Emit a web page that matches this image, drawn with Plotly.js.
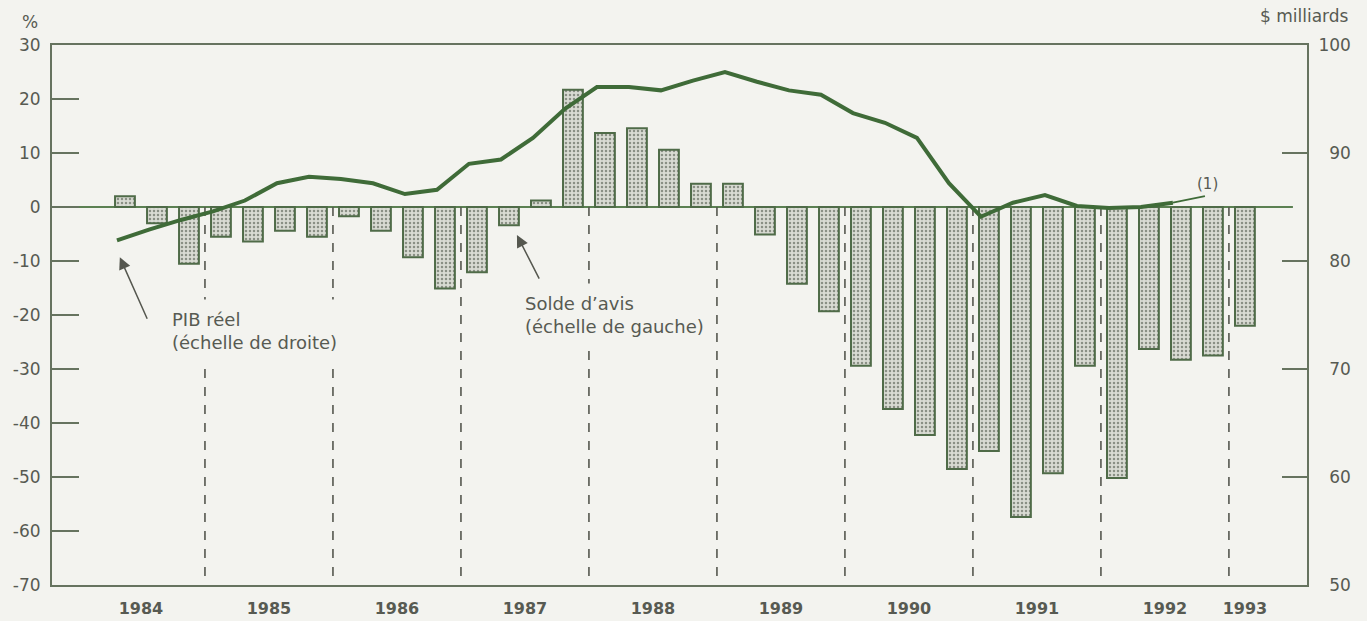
<!DOCTYPE html>
<html>
<head>
<meta charset="utf-8">
<script src="https://cdn.plot.ly/plotly-3.0.1.min.js"></script>
<style>
html,body{margin:0;padding:0;background:#f3f3ef;}
#chart{width:1367px;height:621px;}
</style>
</head>
<body>
<div id="chart"></div>
<script>
// ---- Data ----
const years = ['1984','1985','1986','1987','1988','1989','1990','1991','1992','1993'];

// Quarters from 1984 T2 to 1993 T1
const quarters = [
  '1984T2','1984T3','1984T4',
  '1985T1','1985T2','1985T3','1985T4',
  '1986T1','1986T2','1986T3','1986T4',
  '1987T1','1987T2','1987T3','1987T4',
  '1988T1','1988T2','1988T3','1988T4',
  '1989T1','1989T2','1989T3','1989T4',
  '1990T1','1990T2','1990T3','1990T4',
  '1991T1','1991T2','1991T3','1991T4',
  '1992T1','1992T2','1992T3','1992T4',
  '1993T1'
];

// Solde d'avis (%), left scale
const soldeAvis = [
  2.0, -3.0, -10.5,
  -5.5, -6.4, -4.4, -5.5,
  -1.7, -4.4, -9.3, -15.1,
  -12.1, -3.4, 1.2, 21.7,
  13.7, 14.6, 10.6, 4.3,
  4.3, -5.1, -14.2, -19.3,
  -29.4, -37.4, -42.2, -48.5,
  -45.2, -57.4, -49.3, -29.4,
  -50.2, -26.3, -28.3, -27.5,
  -22.0
];

// PIB réel ($ milliards), right scale, 1984T2 .. 1992T3
const pibReel = [
  81.9, 82.9, 83.8,
  84.6, 85.6, 87.2, 87.8,
  87.6, 87.2, 86.2, 86.6,
  89.0, 89.4, 91.4, 94.1,
  96.1, 96.1, 95.8, 96.7,
  97.5, 96.6, 95.8, 95.4,
  93.7, 92.8, 91.4, 87.2,
  84.1, 85.4, 86.1, 85.1,
  84.9, 85.0, 85.4
];
// Estimation (1): 1992T3 .. 1992T4
const pibEstimation = [85.4, 86.0];

const leftTicks = [-70, -60, -50, -40, -30, -20, -10, 0, 10, 20, 30];
const leftTickText = ['-70','-60','-50','-40','-30','-20','-10','0','10','20','30'];
const rightTicks = [50, 60, 70, 80, 90, 100];
const rightTickText = ['\u200750','\u200760','\u200770','\u200780','\u200790','100'];

// ---- Positions derived from the quarter list ----
const qx = quarters.map((q, i) => i + 1);           // bar centres (1984T1 = 0)
const lineX = pibReel.map((v, i) => qx[i] - 0.25);
const estX = [qx[pibReel.length - 1] - 0.25, qx[pibReel.length] - 0.25];
const lastQ = qx[qx.length - 1];
const yearPos = years.map((y, i) => Math.min(4 * i + 1.5, lastQ));
const boundaries = years.slice(1).map((y, i) => 4 * (i + 1) - 0.5);

const xRange = [-1.28, 37.94];
const frameCol = '#66735f';
const textCol = '#575a52';
const bg = '#f3f3ef';

const traces = [
  {
    type: 'bar', x: qx, y: soldeAvis, width: 0.62, yaxis: 'y',
    marker: {
      color: '#d9dbd3',
      pattern: {shape: '.', fgcolor: '#8a9085', bgcolor: '#d9dbd3', size: 4, solidity: 0.3},
      line: {color: '#4f6b48', width: 2}
    },
    hoverinfo: 'skip'
  },
  {
    type: 'scatter', mode: 'lines', x: lineX, y: pibReel, yaxis: 'y2',
    line: {color: '#3f6b38', width: 4}, hoverinfo: 'skip'
  },
  {
    type: 'scatter', mode: 'lines', x: estX, y: pibEstimation, yaxis: 'y2',
    line: {color: '#3f6b38', width: 1.8}, hoverinfo: 'skip'
  }
];

const shapes = [
  {type: 'line', xref: 'x', yref: 'y', x0: xRange[0], x1: 37.5, y0: 0, y1: 0,
   line: {color: '#5b8052', width: 2}, layer: 'below'}
].concat(boundaries.map(b => ({
  type: 'line', xref: 'x', yref: 'y', x0: b, x1: b, y0: 0, y1: -70,
  line: {color: '#55574f', width: 1.6, dash: 'dash'}, layer: 'below'
})));

const annotations = [
  {xref: 'x', yref: 'paper', x: 2.16, y: 0.470, xanchor: 'left', yanchor: 'middle', align: 'left',
   text: 'PIB réel<br>(échelle de droite)', showarrow: false, bgcolor: bg, borderpad: 9,
   font: {size: 18, color: textCol}},
  {xref: 'x', yref: 'paper', x: 13.19, y: 0.500, xanchor: 'left', yanchor: 'middle', align: 'left',
   text: 'Solde d\u2019avis<br>(échelle de gauche)', showarrow: false, bgcolor: bg, borderpad: 9,
   font: {size: 18, color: textCol}},
  {xref: 'x', yref: 'paper', x: 0.84, y: 0.607, text: '', showarrow: true,
   ax: 28, ay: 63, arrowhead: 2, arrowsize: 1.6, arrowwidth: 1.5, arrowcolor: '#55574f'},
  {xref: 'x', yref: 'paper', x: 13.25, y: 0.648, text: '', showarrow: true,
   ax: 23, ay: 45, arrowhead: 2, arrowsize: 1.6, arrowwidth: 1.5, arrowcolor: '#55574f'},
  {xref: 'x', yref: 'paper', x: 34.84, y: 0.743, xanchor: 'center', yanchor: 'middle',
   text: '(1)', showarrow: false, font: {size: 15, color: textCol}},
  {xref: 'paper', yref: 'paper', x: -0.0175, y: 1.043, xanchor: 'center', yanchor: 'middle',
   text: '%', showarrow: false, font: {size: 17, color: textCol}},
  {xref: 'paper', yref: 'paper', x: 0.998, y: 1.054, xanchor: 'center', yanchor: 'middle',
   text: '$ milliards', showarrow: false, font: {size: 17, color: textCol}}
];

const layout = {
  width: 1367, height: 621,
  margin: {l: 52, r: 60, t: 45, b: 36},
  paper_bgcolor: bg, plot_bgcolor: bg,
  font: {family: 'DejaVu Sans, Arial, sans-serif', color: textCol, size: 17},
  showlegend: false,
  xaxis: {
    range: xRange, tickmode: 'array', tickvals: yearPos, ticktext: years,
    ticks: '', showgrid: false, zeroline: false,
    showline: true, mirror: true, linecolor: frameCol, linewidth: 2,
    tickfont: {size: 16, weight: 'bold', color: textCol}, ticklabelstandoff: 8
  },
  yaxis: {
    range: [-70, 30], tickmode: 'array', tickvals: leftTicks, ticktext: leftTickText,
    ticks: 'inside', ticklen: 27, tickwidth: 2, tickcolor: frameCol,
    showgrid: false, zeroline: false, showline: true, linecolor: frameCol, linewidth: 2,
    tickfont: {size: 17, color: textCol}, ticklabelstandoff: 6
  },
  yaxis2: {
    overlaying: 'y', side: 'right', range: [50, 100],
    tickmode: 'array', tickvals: rightTicks, ticktext: rightTickText,
    ticks: 'inside', ticklen: 25, tickwidth: 2, tickcolor: frameCol,
    showgrid: false, zeroline: false, showline: true, linecolor: frameCol, linewidth: 2,
    tickfont: {size: 17, color: textCol}, ticklabelstandoff: 6
  },
  shapes: shapes,
  annotations: annotations
};

Plotly.newPlot('chart', traces, layout, {displayModeBar: false, staticPlot: true});
</script>
</body>
</html>
